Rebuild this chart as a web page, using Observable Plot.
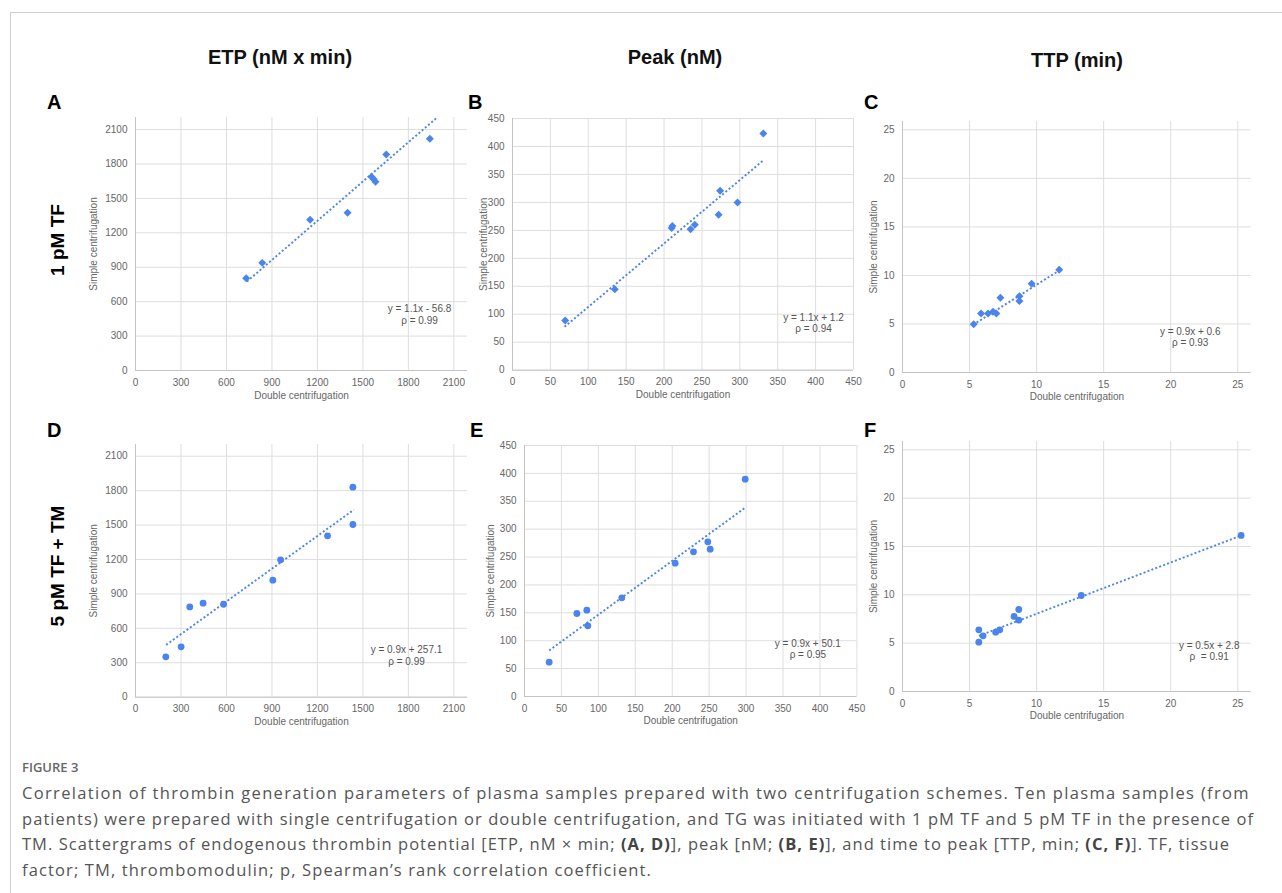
<!DOCTYPE html>
<html>
<head>
<meta charset="utf-8">
<script src="https://cdn.jsdelivr.net/npm/d3@7"></script>
<script src="https://cdn.jsdelivr.net/npm/@observablehq/plot@0.6"></script>
<style>
  html, body { margin: 0; padding: 0; background: #fff; }
  #page { position: relative; width: 1282px; height: 893px; overflow: hidden; background: #fff; }
  .border { position: absolute; left: 10px; top: 12px; right: -2px; bottom: -2px; border-left: 1.5px solid #cfcfcf; border-top: 1.5px solid #cfcfcf; }
  .abs { position: absolute; white-space: nowrap; }
  .coltitle { font-family: "Liberation Sans", Arial, sans-serif; font-weight: bold; font-size: 20px; color: #111; transform: translate(-50%, -50%); }
  .letter { font-family: "Liberation Sans", Arial, sans-serif; font-weight: bold; font-size: 20px; color: #000; transform: translateY(-50%); }
  .rowlabel { font-family: "Liberation Sans", Arial, sans-serif; font-weight: bold; font-size: 19px; color: #000; transform: translate(-50%, -50%) rotate(-90deg); }
  .figlabel { font-family: "Open Sans", sans-serif; font-weight: 600; font-size: 13px; color: #666; }
  .caption { font-family: "Open Sans", sans-serif; font-size: 16.5px; color: #555; line-height: 25.5px; }
  .caption b { font-weight: 700; color: #444; }
  .plotbox { position: absolute; }
</style>
</head>
<body>
<div id="page">
  <div class="border"></div>
</div>
<script>
// ---------- data ----------
const columnTitles = ["ETP (nM x min)", "Peak (nM)", "TTP (min)"];
const rowLabels = ["1 pM TF", "5 pM TF + TM"];
const panelLetters = ["A", "B", "C", "D", "E", "F"];
const xAxisLabel = "Double centrifugation";
const yAxisLabel = "Simple centrifugation";

const etpTicks = [0, 300, 600, 900, 1200, 1500, 1800, 2100];
const peakTicks = [0, 50, 100, 150, 200, 250, 300, 350, 400, 450];
const ttpTicks = [0, 5, 10, 15, 20, 25];

// Panel A: ETP, 1 pM TF
const etp1Double = [730, 836, 1152, 1399, 1557, 1570, 1583, 1654, 1942];
const etp1Simple = [805, 938, 1313, 1374, 1688, 1668, 1645, 1882, 2019];
const etp1TrendX = [735, 1985];
const etp1TrendY = [775, 2200];
const etp1Eq = "y = 1.1x - 56.8\nρ = 0.99";

// Panel B: Peak, 1 pM TF
const peak1Double = [69.5, 135, 210, 211, 235, 240.6, 272, 274, 297, 331];
const peak1Simple = [88.8, 144.8, 254, 258, 252, 260, 278, 321, 300, 423];
const peak1TrendX = [68.6, 330];
const peak1TrendY = [77.5, 374];
const peak1Eq = "y = 1.1x + 1.2\nρ = 0.94";

// Panel C: TTP, 1 pM TF
const ttp1Double = [5.31, 5.86, 6.38, 6.75, 7.0, 7.3, 8.72, 8.72, 9.63, 11.69];
const ttp1Simple = [4.98, 6.08, 6.08, 6.25, 6.08, 7.69, 7.86, 7.35, 9.13, 10.58];
const ttp1TrendX = [5.26, 11.72];
const ttp1TrendY = [4.91, 10.54];
const ttp1Eq = "y = 0.9x + 0.6\nρ = 0.93";

// Panel D: ETP, 5 pM TF + TM
const etp5Double = [200, 301, 358, 446, 581, 906, 957, 1267, 1434, 1434];
const etp5Simple = [352, 439, 787, 819, 810, 1020, 1197, 1406, 1505, 1830];
const etp5TrendX = [202, 1440];
const etp5TrendY = [456, 1633];
const etp5Eq = "y = 0.9x + 257.1\nρ = 0.99";

// Panel E: Peak, 5 pM TF + TM
const peak5Double = [33.4, 70.9, 84.4, 85.7, 131.8, 204, 228.8, 248.2, 251.4, 298.8];
const peak5Simple = [61.6, 148.8, 154.8, 126.7, 176.9, 239, 259.4, 277.3, 264.1, 389.6];
const peak5TrendX = [33.4, 297.9];
const peak5TrendY = [82.5, 337.6];
const peak5Eq = "y = 0.9x + 50.1\nρ = 0.95";

// Panel F: TTP, 5 pM TF + TM
const ttp5Double = [5.69, 5.69, 6.01, 6.95, 7.25, 8.32, 8.67, 8.67, 13.33, 25.25];
const ttp5Simple = [6.38, 5.10, 5.76, 6.14, 6.38, 7.76, 8.48, 7.38, 9.93, 16.14];
const ttp5TrendX = [5.69, 25.25];
const ttp5TrendY = [5.76, 16.14];
const ttp5Eq = "y = 0.5x + 2.8\nρ  = 0.91";

const captionLabel = "FIGURE 3";
const captionLines = [
  "Correlation of thrombin generation parameters of plasma samples prepared with two centrifugation schemes. Ten plasma samples (from",
  "patients) were prepared with single centrifugation or double centrifugation, and TG was initiated with 1 pM TF and 5 pM TF in the presence of",
  "TM. Scattergrams of endogenous thrombin potential [ETP, nM × min; <b>(A, D)</b>], peak [nM; <b>(B, E)</b>], and time to peak [TTP, min; <b>(C, F)</b>]. TF, tissue",
  "factor; TM, thrombomodulin; p, Spearman’s rank correlation coefficient."
];
const captionLineWidths = [1228, 1232, 1208, 630];

// ---------- layout ----------
const BLUE = "#4a84ee";
const page = document.getElementById("page");

function addDiv(cls, html, left, top) {
  const d = document.createElement("div");
  d.className = "abs " + cls;
  d.innerHTML = html;
  d.style.left = left + "px";
  d.style.top = top + "px";
  page.appendChild(d);
  return d;
}

addDiv("coltitle", columnTitles[0], 280, 57);
addDiv("coltitle", columnTitles[1], 675, 57);
addDiv("coltitle", columnTitles[2], 1077, 60);
addDiv("rowlabel", rowLabels[0], 58, 240);
addDiv("rowlabel", rowLabels[1], 58, 566);
[[47, 102], [468, 102], [864, 102], [47, 430], [470, 430], [864, 430]].forEach((p, i) => addDiv("letter", panelLetters[i], p[0], p[1]));

addDiv("figlabel", captionLabel, 22, 758);
const capDivs = captionLines.map((l, i) => addDiv("caption", l, 22, 780 + i * 25.5));
// fit each caption line to the width it spans in the figure
capDivs.forEach((d, i) => {
  const natural = d.getBoundingClientRect().width;
  const n = d.textContent.length;
  const ls = (captionLineWidths[i] - natural) / n;
  d.style.letterSpacing = ls.toFixed(3) + "px";
});

const panels = [
  {xs: etp1Double, ys: etp1Simple, tx: etp1TrendX, ty: etp1TrendY, eq: etp1Eq, xt: etpTicks, yt: etpTicks,
   xd: [0, 2190], yd: [0, 2205], l: 135, r: 467, t: 117, b: 370, sym: "diamond2", ylo: 46, eqdx: -48, eqdy: -56},
  {xs: peak1Double, ys: peak1Simple, tx: peak1TrendX, ty: peak1TrendY, eq: peak1Eq, xt: peakTicks, yt: peakTicks,
   xd: [0, 450], yd: [0, 450], l: 512.3, r: 853.3, t: 118.3, b: 370, sym: "diamond2", ylo: 33, eqdx: -40, eqdy: -47.5},
  {xs: ttp1Double, ys: ttp1Simple, tx: ttp1TrendX, ty: ttp1TrendY, eq: ttp1Eq, xt: ttpTicks, yt: ttpTicks,
   xd: [0, 26], yd: [0, 25.85], l: 902, r: 1250.7, t: 120.7, b: 371.7, sym: "diamond2", ylo: 33, eqdx: -61, eqdy: -35.7},
  {xs: etp5Double, ys: etp5Simple, tx: etp5TrendX, ty: etp5TrendY, eq: etp5Eq, xt: etpTicks, yt: etpTicks,
   xd: [0, 2190], yd: [0, 2202], l: 135, r: 467, t: 444, b: 696.7, sym: "circle", ylo: 46, eqdx: -61, eqdy: -41.7},
  {xs: peak5Double, ys: peak5Simple, tx: peak5TrendX, ty: peak5TrendY, eq: peak5Eq, xt: peakTicks, yt: peakTicks,
   xd: [0, 450], yd: [0, 450], l: 524.3, r: 856.7, t: 445, b: 696, sym: "circle", ylo: 38, eqdx: -49, eqdy: -47.6},
  {xs: ttp5Double, ys: ttp5Simple, tx: ttp5TrendX, ty: ttp5TrendY, eq: ttp5Eq, xt: ttpTicks, yt: ttpTicks,
   xd: [0, 26], yd: [0, 25.86], l: 902, r: 1250.7, t: 440.7, b: 690.7, sym: "circle", ylo: 33, eqdx: -42, eqdy: -40.8}
];

const mL = 52, mR = 12, mT = 8, mB = 40;
panels.forEach(cfg => {
  const W = cfg.r - cfg.l, H = cfg.b - cfg.t;
  const pts = cfg.xs.map((x, i) => ({x, y: cfg.ys[i]}));
  const trend = cfg.tx.map((x, i) => ({x, y: cfg.ty[i]}));
  const fmt = d => `${d}`;
  const chart = Plot.plot({
    width: W + mL + mR,
    height: H + mT + mB,
    marginLeft: mL, marginRight: mR, marginTop: mT, marginBottom: mB,
    style: {fontFamily: "'Liberation Sans', Arial, sans-serif", fontSize: "10px", color: "#666", background: "transparent", overflow: "visible"},
    x: {domain: cfg.xd},
    y: {domain: cfg.yd},
    marks: [
      Plot.gridX(cfg.xt, {stroke: "#dedede", strokeOpacity: 1}),
      Plot.gridY(cfg.yt, {stroke: "#dedede", strokeOpacity: 1}),
      Plot.ruleX([0], {stroke: "#c4c4c4"}),
      Plot.ruleY([0], {stroke: "#c4c4c4"}),
      Plot.axisX(cfg.xt, {tickSize: 0, tickPadding: 8, tickFormat: fmt, fill: "#666",
        label: xAxisLabel, labelAnchor: "center", labelArrow: "none", labelOffset: 28}),
      Plot.axisY(cfg.yt, {tickSize: 0, tickPadding: 8, tickFormat: fmt, fill: "#666",
        label: yAxisLabel, labelAnchor: "center", labelArrow: "none", labelOffset: cfg.ylo}),
      Plot.line(trend, {x: "x", y: "y", stroke: BLUE, strokeWidth: 1.9, strokeDasharray: "2,2.2", strokeLinecap: "butt", clip: true}),
      Plot.dot(pts, {x: "x", y: "y", symbol: cfg.sym, r: cfg.sym === "circle" ? 3.4 : 3.6, fill: BLUE, stroke: "none"}),
      Plot.text([cfg.eq], {text: d => d, frameAnchor: "bottom-right", dx: cfg.eqdx, dy: cfg.eqdy,
        textAnchor: "middle", lineAnchor: "middle", lineHeight: 1.15, fill: "#555", fontSize: 10})
    ]
  });
  const box = document.createElement("div");
  box.className = "plotbox";
  box.style.left = (cfg.l - mL) + "px";
  box.style.top = (cfg.t - mT) + "px";
  box.appendChild(chart);
  page.appendChild(box);
});
</script>
</body>
</html>
